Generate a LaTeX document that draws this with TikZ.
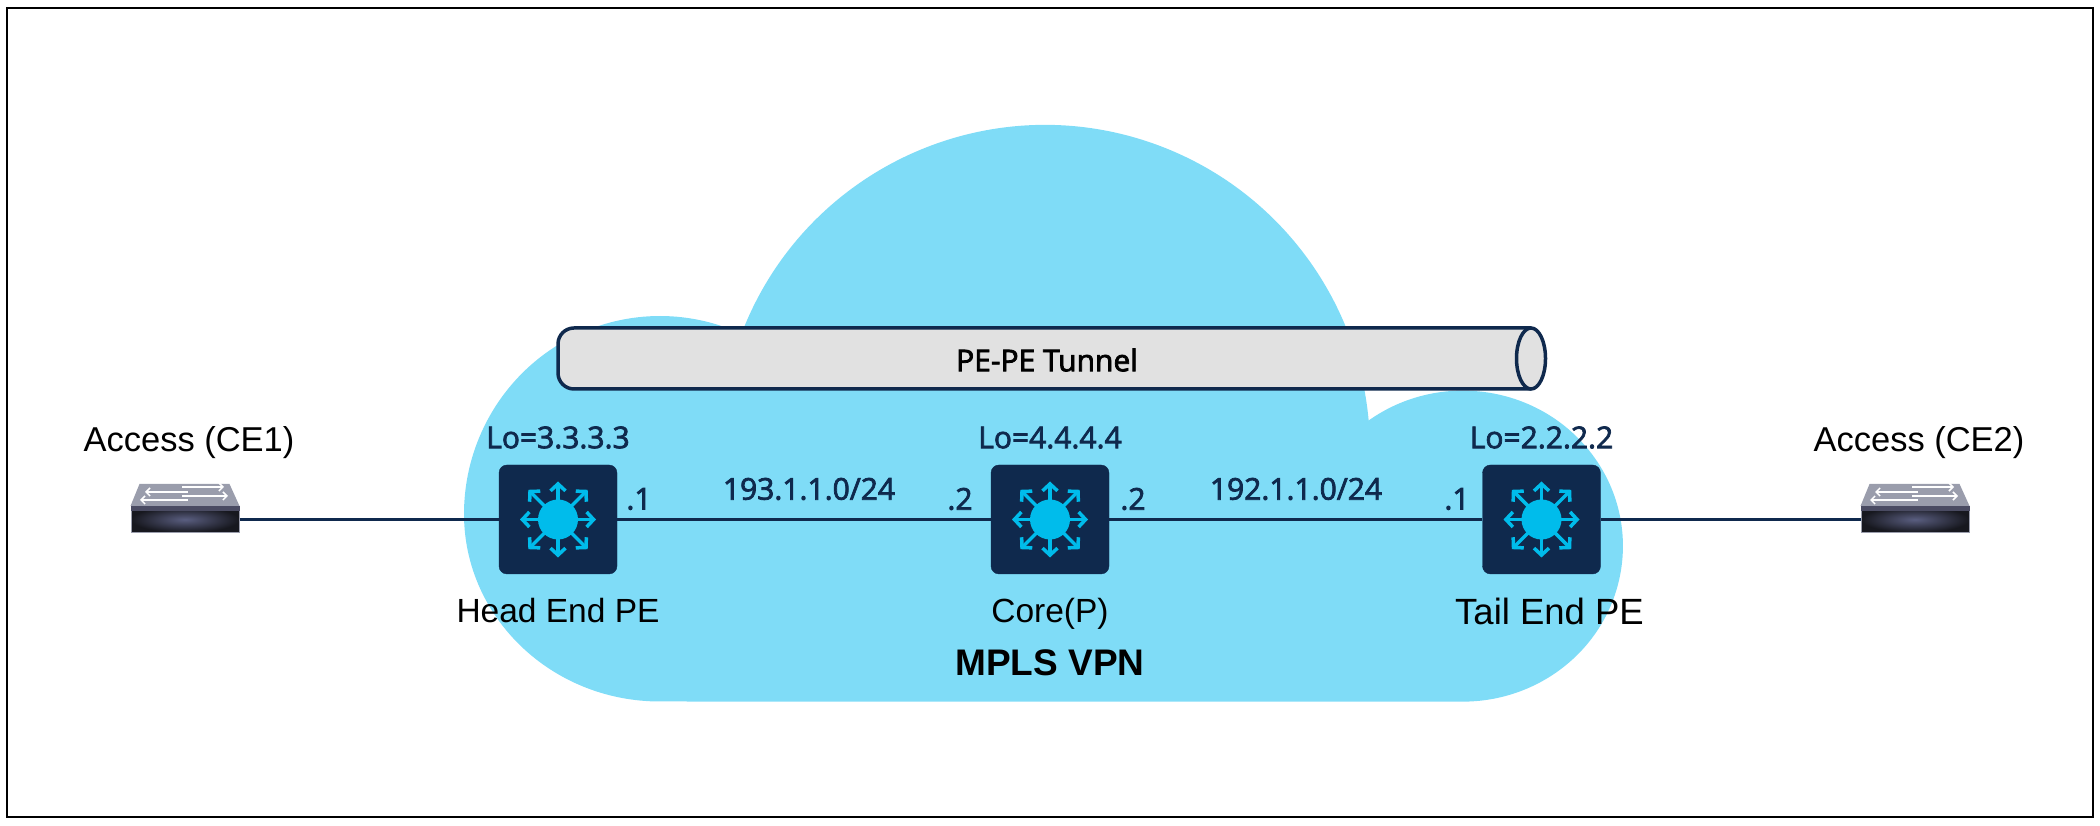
\documentclass[tikz,border=0pt]{standalone}
\usepackage{fontspec}
\setmainfont{Liberation Sans}
\newfontfamily\ipfont[FakeBold=2.5]{Open Sans}
\usepackage{tikz}
\usetikzlibrary{positioning,arrows.meta,calc,shapes.geometric}
\definecolor{VPNNavy}{HTML}{0F294D}
\definecolor{VPNCloud}{HTML}{7FDCF7}
\definecolor{VPNCyan}{HTML}{00BCEB}
\definecolor{VPNTube}{HTML}{E1E1E1}
\definecolor{VPNGlow}{HTML}{5A5E80}
\definecolor{VPNDark}{HTML}{17181F}
\definecolor{VPNPlate}{HTML}{9A9DAC}
\definecolor{VPNBand}{HTML}{4A4B62}

\begin{document}
\begin{tikzpicture}[
    x=1pt, y=1pt,
    router/.style={
      draw=VPNNavy,
      fill=VPNNavy,
      rounded corners=8pt,
      minimum width=118pt,
      minimum height=109pt,
      inner sep=0pt
    },
    switchbox/.style={
      draw=VPNPlate,
      line width=1pt,
      inner color=VPNGlow,
      outer color=VPNDark,
      minimum width=108pt,
      minimum height=26pt,
      inner sep=0pt
    },
    namelabel/.style={
      inner sep=0pt,
      text=black,
      font=\fontsize{33.5}{38}\selectfont
    },
    iplabel/.style={
      inner sep=0pt,
      text=VPNNavy,
      font=\fontsize{30}{36}\ipfont
    },
    tube/.style={
      draw=VPNNavy,
      fill=VPNTube,
      line width=3.5pt
    },
    link/.style={
      draw=VPNNavy,
      line width=3.5pt
    },
    ray/.style={
      draw=VPNCyan,
      line width=3.5pt,
      line join=round,
      -{Straight Barb[length=7pt,width=15pt,line width=3.5pt]}
    },
    whitearrow/.style={
      draw=white,
      line width=1.8pt,
      -{Straight Barb[length=4pt,width=8pt,line width=1.5pt]}
    }
  ]
  \useasboundingbox (0,0) rectangle (2100,826);
  \node[draw=black, line width=2.5pt, minimum width=2086pt, minimum height=809pt, inner sep=0pt] (frame) at (1050,413.5) {};

  % cloud behind the routers
  \fill[VPNCloud] (741.4,492)
    arc[start angle=159.1, end angle=5.2, radius=325]
    arc[start angle=126.1, end angle=-90, x radius=160, y radius=155.5]
    -- (660,124.5)
    arc[start angle=-90, end angle=-180, x radius=196, y radius=187.5]
    arc[start angle=180, end angle=66.5, x radius=196, y radius=198]
    -- cycle;

  % tunnel
  \coordinate (tubetop) at (1531,498);
  \coordinate (tubebottom) at (1531,437);
  \draw[tube, rounded corners=16pt] (tubetop) -- (558,498) -- (558,437) -- (tubebottom);
  \node[tube, ellipse, minimum width=29pt, minimum height=61pt, inner sep=0pt] (tunnelend) at (1531,467.5) {};
  \node[iplabel, text=black] (tunnellabel) at (1047,466) {PE-PE Tunnel};

  % routers
  \node[router] (head) at (558,306.5) {};
  \node[router] (core) at (1050,306.5) {};
  \node[router] (tail) at (1541.5,306.5) {};

  % access switches
  \node[switchbox] (ce1) at (185,306.5) {};
  \node[switchbox] (ce2) at (1915,306.5) {};

  % links
  \draw[link] (ce1) -- (head);
  \draw[link] (head) -- (core);
  \draw[link] (core) -- (tail);
  \draw[link] (tail) -- (ce2);

  % router icons and switch tops
  \foreach \rname in {head,core,tail} {
    \foreach \ang in {0,90,180,270}
      \draw[ray] (\rname.center) -- ++(\ang:38);
    \foreach \ang in {45,135,225,315}
      \draw[ray] (\rname.center) -- ++(\ang:42);
    \fill[VPNCyan] (\rname.center) circle[radius=20];
  }
  \foreach \sname in {ce1,ce2} {
    \fill[VPNPlate] (\sname.north west) -- ++(9,22) -- ($(\sname.north east)+(-10,22)$) -- (\sname.north east) -- cycle;
    \fill[VPNBand] (\sname.north west) rectangle ($(\sname.north east)+(0,-5)$);
    \draw[whitearrow] ($(\sname.north)+(-3,19)$) -- ++(42,0);
    \draw[whitearrow] ($(\sname.north)+(3,14)$) -- ++(-43,0);
    \draw[whitearrow] ($(\sname.north)+(-3,10)$) -- ++(46,0);
    \draw[whitearrow] ($(\sname.north)+(3,6)$) -- ++(-48,0);
  }

  % labels above and below the routers
  \node[iplabel, above=16pt of head] (lohead) {Lo=3.3.3.3};
  \node[iplabel, above=16pt of core] (locore) {Lo=4.4.4.4};
  \node[iplabel, above=16pt of tail] (lotail) {Lo=2.2.2.2};
  \node[namelabel, below=24pt of head] (namehead) {Head End PE};
  \node[namelabel, below=24pt of core] (namecore) {Core(P)};
  \node[namelabel, below=24pt of tail, xshift=8pt, font=\fontsize{36.5}{38}\selectfont] (nametail) {Tail End PE};
  \node[namelabel, below=75pt of core, font=\fontsize{37}{42}\selectfont\bfseries] (mpls) {MPLS VPN};
  \node[namelabel, above=47pt of ce1, xshift=4pt, font=\fontsize{34.5}{40}\selectfont] (nameceone) {Access (CE1)};
  \node[namelabel, above=47pt of ce2, xshift=4pt, font=\fontsize{34.5}{40}\selectfont] (namecetwo) {Access (CE2)};

  % addresses along the links
  \node[iplabel] (dotheadr) at (639,327) {.1};
  \node[iplabel] (subnetl) at (809,337) {193.1.1.0/24};
  \node[iplabel] (dotcorel) at (960,327) {.2};
  \node[iplabel] (dotcorer) at (1133,327) {.2};
  \node[iplabel] (subnetr) at (1296,337) {192.1.1.0/24};
  \node[iplabel] (dottaill) at (1457,327) {.1};
\end{tikzpicture}
\end{document}
